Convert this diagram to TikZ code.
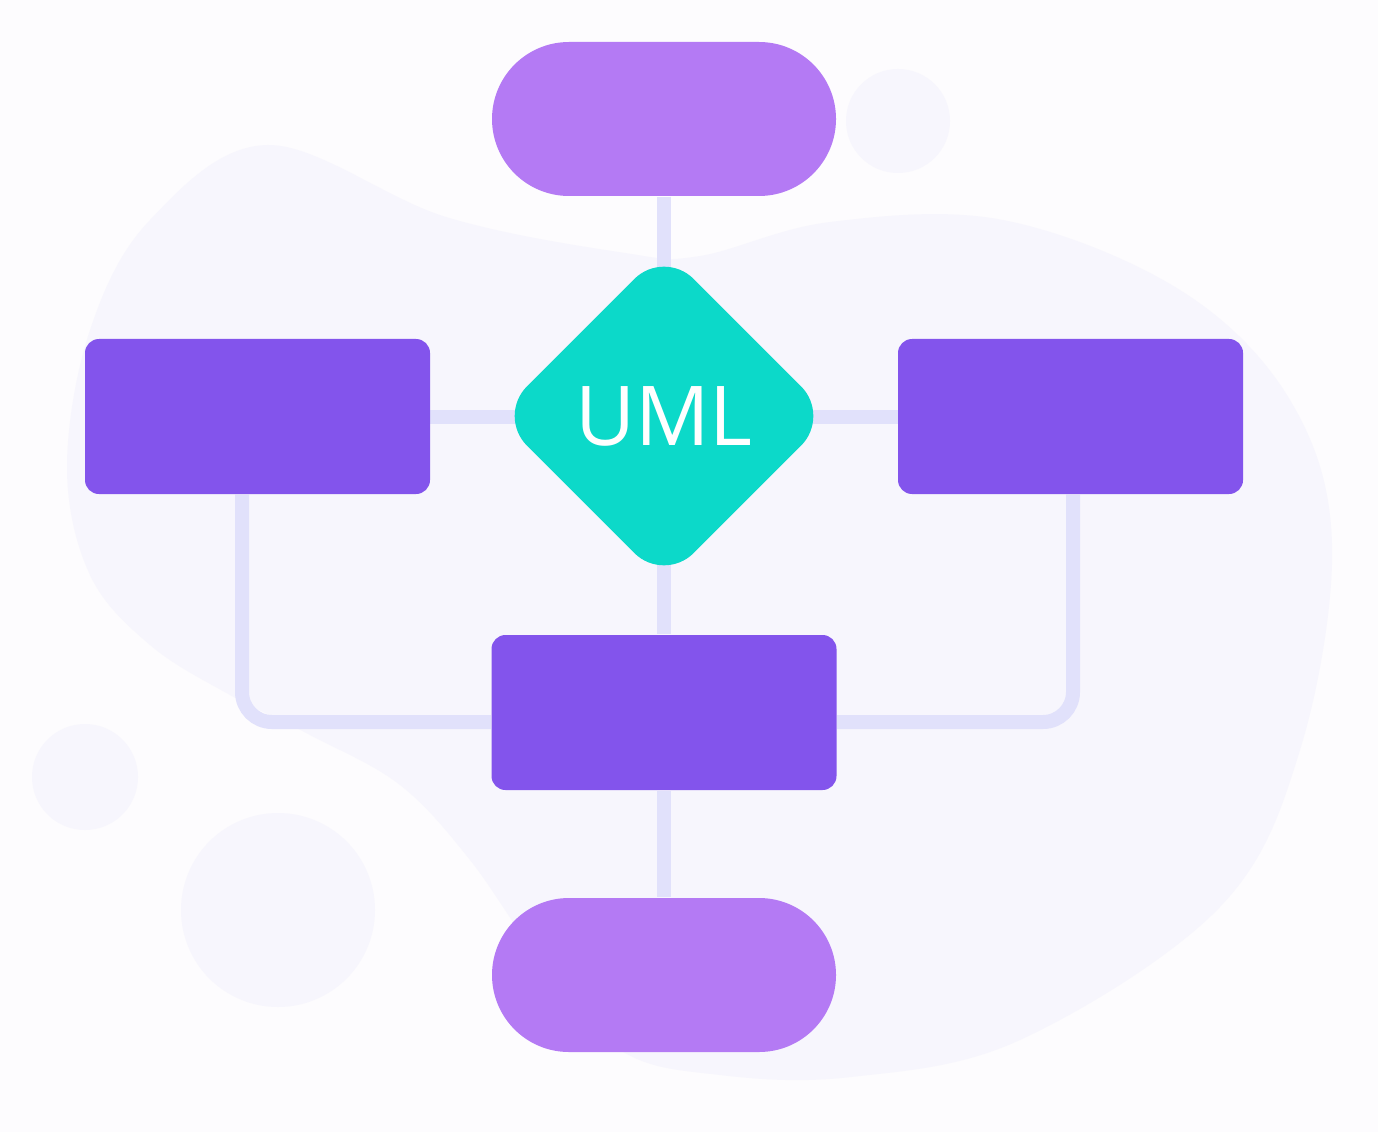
\documentclass[tikz,border=0pt]{standalone}
\usepackage{fontspec}
\newfontfamily\umlfont{Open Sans}
\usepackage{tikz}
\usetikzlibrary{shapes.geometric}
\usetikzlibrary{positioning}
\definecolor{umlpaper}{HTML}{FDFCFE}
\definecolor{umlblob}{HTML}{F7F6FD}
\definecolor{umllilac}{HTML}{B47AF4}
\definecolor{umlpurple}{HTML}{8354EC}
\definecolor{umlteal}{HTML}{0CD9C9}
\definecolor{umlwire}{HTML}{E1E1FB}
\pgfdeclarelayer{blob}
\pgfdeclarelayer{wires}
\pgfsetlayers{blob,wires,main}

\begin{document}
\begin{tikzpicture}[y=-1cm,
  term/.style={fill=umllilac, minimum width=3.44cm, minimum height=1.54cm, rounded corners=0.77cm, inner sep=0pt},
  box/.style={fill=umlpurple, minimum width=3.45cm, minimum height=1.55cm, rounded corners=0.14cm, inner sep=0pt},
  wire/.style={draw=umlwire, line width=0.14cm}]
\useasboundingbox (0,0) rectangle (13.78,11.32);
\node[term] (start) at (6.64,1.19) {};
\node[diamond, aspect=1, fill=umlteal, minimum width=3.34cm, minimum height=3.34cm, inner sep=0pt, rounded corners=0.42cm, text=white, font=\umlfont\fontsize{23.5}{28}\selectfont] (uml) at (6.64,4.16) {UML};
\node[box] (lbox) at (2.575,4.165) {};
\node[box] (rbox) at (10.705,4.165) {};
\node[box] (mid) at (6.64,7.125) {};
\node[term] (stop) at (6.64,9.75) {};
\begin{pgfonlayer}{wires}
\draw[wire] (start) -- (uml.center) -- (mid) -- (stop);
\draw[wire] (lbox.center) -- (rbox.center);
\draw[wire, rounded corners=0.3cm] ([xshift=-0.155cm]lbox.south) |- ([yshift=-0.095cm]mid.west);
\draw[wire, rounded corners=0.3cm] ([xshift=0.025cm]rbox.south) |- ([yshift=-0.095cm]mid.east);
\end{pgfonlayer}
\begin{pgfonlayer}{blob}
\fill[umlpaper] (0,0) rectangle (13.78,11.32);
\fill[umlblob] plot[smooth cycle, tension=0.6] coordinates {(2.68,1.45) (1.5,2.2) (0.9,3.3) (0.67,4.67) (0.9,5.75) (1.5,6.45) (2.3,6.95) (3.1,7.35) (4.0,7.85) (4.7,8.6) (5.4,9.6) (6.2,10.5) (7.2,10.75) (8.51,10.77) (10.2,10.4) (12.19,9.08) (13.0,7.5) (13.32,5.44) (12.9,4.0) (11.8,2.9) (10.03,2.2) (8.3,2.22) (7.0,2.56) (6.25,2.53) (4.46,2.17)};
\fill[umlblob] (8.98,1.21) circle (0.52);
\fill[umlblob] (0.85,7.77) circle (0.53);
\fill[umlblob] (2.78,9.1) circle (0.97);
\end{pgfonlayer}
\end{tikzpicture}
\end{document}
